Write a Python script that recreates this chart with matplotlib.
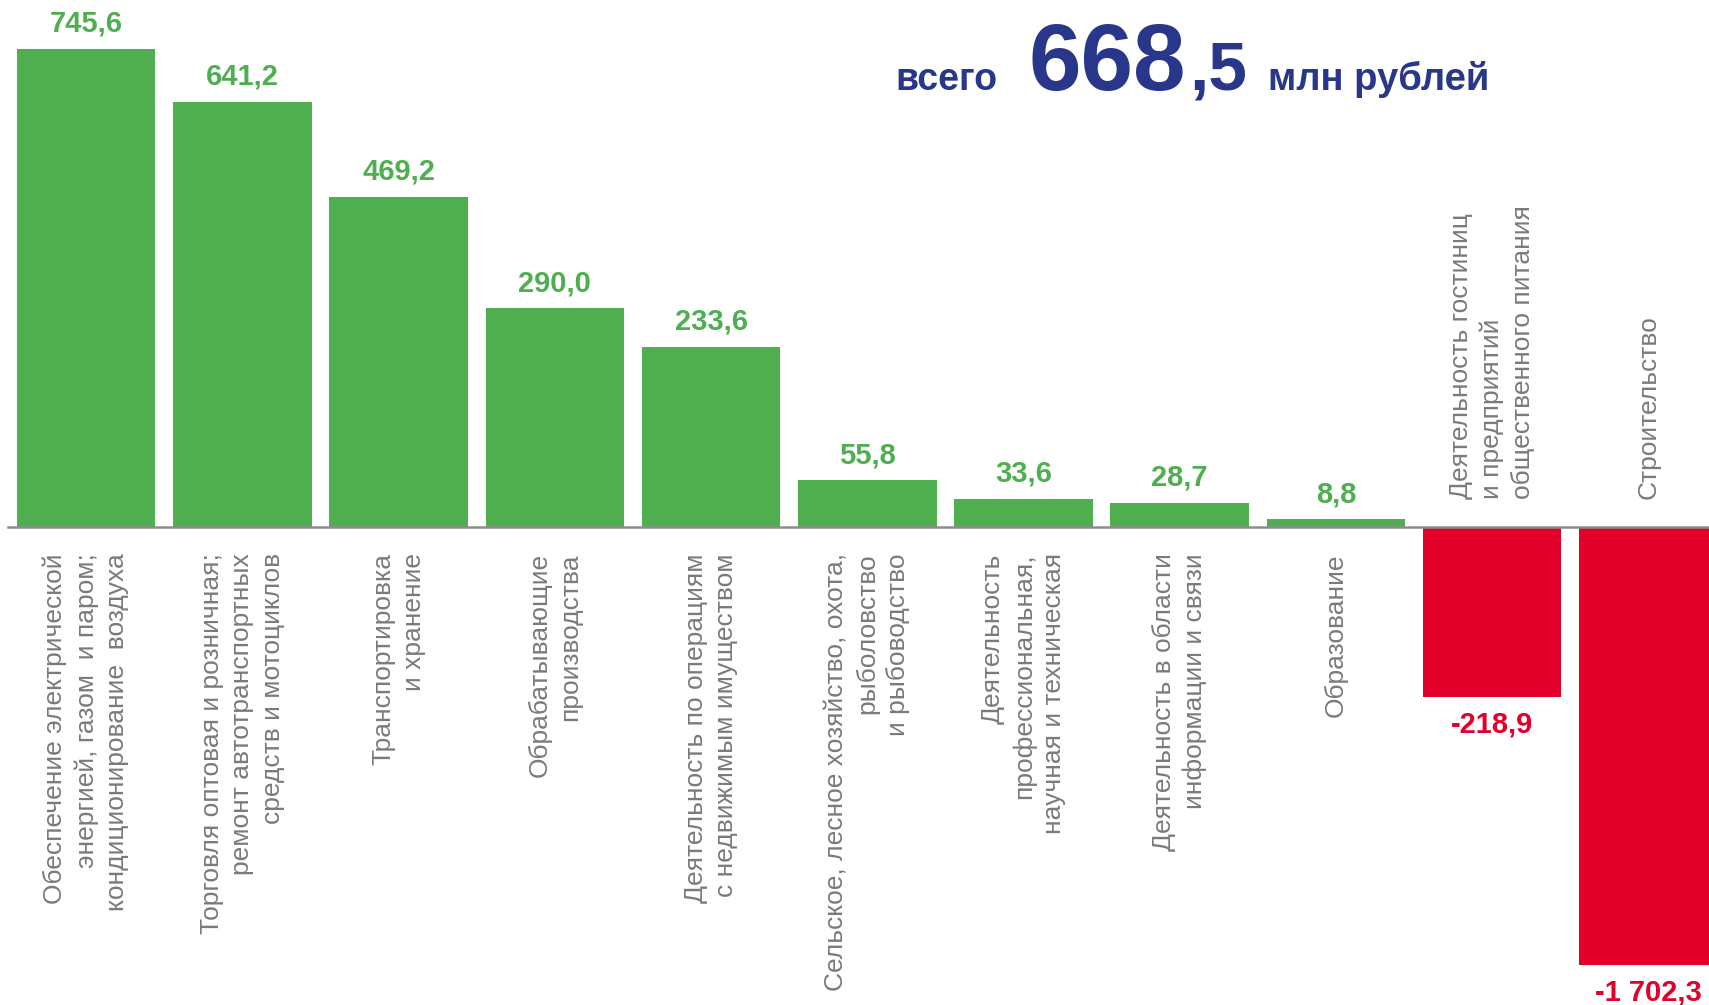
import numpy as np
import matplotlib
matplotlib.use('Agg')
import matplotlib.pyplot as plt

categories = [
    'Обеспечение электрической\nэнергией, газом  и паром;\nкондиционирование  воздуха',
    'Торговля оптовая и розничная;\nремонт автотранспортных\nсредств и мотоциклов',
    'Транспортировка\nи хранение',
    'Обрабатывающие\nпроизводства',
    'Деятельность по операциям\nс недвижимым имуществом',
    'Сельское, лесное хозяйство, охота,\nрыболовство\nи рыбоводство',
    'Деятельность\nпрофессиональная,\nнаучная и техническая',
    'Деятельность в области\nинформации и связи',
    'Образование',
    'Деятельность гостиниц\nи предприятий\nобщественного питания',
    'Строительство',
]
values = [745.6, 641.2, 469.2, 290.0, 233.6, 55.8, 33.6, 28.7, 8.8, -218.9, -1702.3]
value_labels = ['745,6', '641,2', '469,2', '290,0', '233,6', '55,8', '33,6', '28,7', '8,8',
                '-218,9', '-1 702,3']

total_int = '668'
total_dec = ',5'

GREEN = '#4FAE50'
RED = '#E2002B'
NAVY = '#28378A'
GREY = '#7A7A7A'

plt.rcParams['font.family'] = ['Liberation Sans', 'DejaVu Sans']

# the original chart is not drawn to a linear scale: compress large values
C = 1000.0
def fwd(v):
    v = np.asarray(v, dtype=float)
    return np.sign(v) * np.log1p(np.abs(v) / C)
def inv(u):
    u = np.asarray(u, dtype=float)
    return np.sign(u) * C * np.expm1(np.abs(u))

fig = plt.figure(figsize=(17.09, 10.05), dpi=100)
ax = fig.add_axes([0, 0.0398, 1, 0.9602])
ax.set_yscale('function', functions=(fwd, inv))
ax.set_ylim(-666, 848)
ax.set_xlim(-0.552, 10.389)
ax.axis('off')

x = np.arange(len(values))
colors = [GREEN if v >= 0 else RED for v in values]
bars = ax.bar(x, values, width=0.887, color=colors, zorder=2)
ax.plot([-0.5, 10.5], [0, 0], color='#8C8C8C', lw=1.8, zorder=3)

ylo = ax.get_ylim()[0]
for xi, v, lab, col, cat in zip(x, values, value_labels, colors, categories):
    if v >= 0:
        ax.annotate(lab, (xi, v), xytext=(0, 8), textcoords='offset points',
                    ha='center', va='bottom', color=col, fontsize=21, fontweight='bold')
        ax.annotate(cat, (xi, 0), xytext=(0, -19), textcoords='offset points',
                    ha='center', va='top', rotation=90, multialignment='right',
                    color=GREY, fontsize=19, linespacing=1.35)
    else:
        ax.annotate(lab, (xi, max(v, ylo)), xytext=(0, -10), textcoords='offset points',
                    ha='center', va='top', color=col, fontsize=21, fontweight='bold',
                    annotation_clip=False)
        ax.annotate(cat, (xi, 0), xytext=(0, 20), textcoords='offset points',
                    ha='center', va='bottom', rotation=90, multialignment='left',
                    color=GREY, fontsize=19, linespacing=1.35)

# headline: pieces placed one after another
renderer = fig.canvas.get_renderer()
pieces = [('всего', 27, 31), (total_int, 68, 4), (total_dec, 50, 20), ('млн рублей', 27.5, 0)]
W = fig.bbox.width
xpos = 895.0
for s, fs, gap in pieces:
    t = fig.text(xpos / W, 1 - 90 / 1005, s, fontsize=fs, fontweight='bold',
                 color=NAVY, ha='left', va='baseline')
    ext = t.get_window_extent(renderer)
    xpos = ext.x1 + gap

fig.savefig('out.png', dpi=100)
